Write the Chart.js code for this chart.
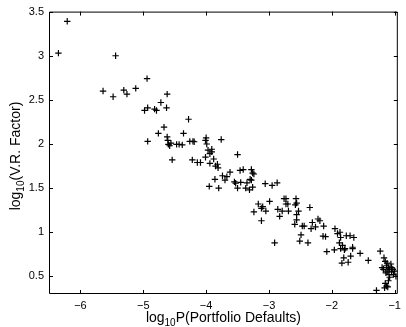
<!DOCTYPE html>
<html>
<head>
<meta charset="utf-8">
<script src="https://cdn.jsdelivr.net/npm/chart.js@4.4.0/dist/chart.umd.min.js"></script>
<style>
html,body{margin:0;padding:0;background:#fff;}
#wrap{width:406px;height:327px;position:relative;}
</style>
</head>
<body>
<div id="wrap"><canvas id="c"></canvas></div>
<script>
const logP = [
-6.21,-6.35,-5.44,-5.64,-5.48,-5.31,-5.26,-5.12,-4.94,-4.98,
-4.93,-4.82,-4.79,-4.72,-4.62,-4.63,-4.28,-4.67,-4.76,-4.93,
-4.62,-4.61,-4.60,-4.56,-4.58,-4.47,-4.43,-4.38,-4.36,-4.54,
-4.26,-4.21,-4.19,-4.22,-4.14,-4.09,-4.01,-4.00,-3.99,-4.01,
-3.97,-3.94,-3.91,-3.91,-3.95,-3.94,-3.88,-3.86,-3.85,-3.82,
-3.80,-3.76,-3.81,-3.74,-3.70,-3.67,-3.62,-3.50,-3.55,-3.53,
-3.50,-3.46,-3.41,-3.45,-3.37,-3.35,-3.31,-3.30,-3.28,-3.26,
-3.24,-3.28,-3.26,-3.24,-3.06,-2.87,-2.95,-3.17,-3.12,-3.10,
-3.05,-3.12,-2.99,-2.91,-2.86,-2.83,-2.79,-2.76,-2.73,-2.73,
-2.69,-2.70,-2.58,-2.57,-2.56,-2.56,-2.59,-2.56,-2.53,-2.49,
-2.51,-2.47,-2.44,-2.35,-2.38,-2.31,-2.33,-2.26,-2.22,-2.19,
-2.13,-2.14,-2.10,-2.08,-1.96,-1.95,-1.91,-1.88,-1.87,-1.86,
-1.86,-1.84,-1.83,-1.81,-1.79,-1.80,-1.77,-1.74,-1.71,-1.70,
-1.67,-1.65,-1.67,-1.55,-1.42,-1.23,-1.29,-1.16,-1.13,
-1.17,-1.15,-1.20,-1.18,-1.13,-1.10,-1.12,-1.08,-1.06,-1.05,
-1.09,-1.14,-1.03,-1.00,-0.98,-1.08,-1.10,-1.15,-1.11,-1.02,
-1.05,-1.12
];
const logVR = [
3.39,3.03,3.00,2.60,2.535,2.61,2.565,2.63,2.74,2.38,
2.41,2.395,2.38,2.47,2.565,2.41,2.28,2.19,2.12,2.03,
2.08,2.04,1.995,2.01,1.98,1.995,1.995,1.99,2.12,1.82,
2.03,2.03,2.025,1.82,1.79,1.79,2.04,2.07,2.00,1.85,
1.93,1.89,1.94,1.91,1.52,1.78,1.83,1.60,1.75,1.77,
1.50,2.05,1.73,1.64,1.59,1.63,1.68,1.88,1.57,1.555,
1.50,1.70,1.71,1.565,1.50,1.56,1.48,1.60,1.71,1.67,
1.66,1.59,1.51,1.23,1.55,1.56,1.53,1.32,1.27,1.29,
1.24,1.13,1.35,0.88,1.26,1.18,1.24,1.38,1.38,1.32,
1.24,1.32,1.31,1.38,1.20,1.14,1.09,1.33,1.24,0.97,
0.90,1.07,1.07,1.28,0.88,1.11,1.04,1.06,1.15,1.13,
1.07,0.955,0.95,0.78,0.80,1.04,0.985,0.88,1.00,0.94,
0.815,0.65,0.85,0.71,0.815,0.80,0.96,0.66,0.96,0.73,
0.83,0.94,0.815,0.76,0.68,0.785,0.34,0.37,0.39,
0.71,0.67,0.60,0.58,0.62,0.60,0.56,0.58,0.64,0.55,
0.52,0.54,0.58,0.56,0.50,0.49,0.45,0.42,0.38,0.52,
0.60,0.65
];
const xTicks = [-6,-5,-4,-3,-2,-1];
const yTicks = [0.5,1,1.5,2,2.5,3,3.5];
const xTickLabels = ['\u22126','\u22125','\u22124','\u22123','\u22122','\u22121'];
const yTickLabels = ['0.5','1','1.5','2','2.5','3','3.5'];
// axis titles: [main, subscript, rest]
const xTitleParts = ['log','10','P(Portfolio Defaults)'];
const yTitleParts = ['log','10','(V.R. Factor)'];

const points = logP.map((x,i)=>({x:x,y:logVR[i]}));
const FONT = '"Liberation Sans", Arial, Helvetica, sans-serif';

function drawSubTitle(ctx, parts, cx, cy, rot){
  const big = '14px ' + FONT, small = '10px ' + FONT;
  ctx.save();
  ctx.translate(cx, cy);
  ctx.rotate(rot);
  ctx.fillStyle = '#000';
  ctx.textBaseline = 'alphabetic';
  ctx.textAlign = 'left';
  ctx.font = big; const w0 = ctx.measureText(parts[0]).width;
  ctx.font = small; const w1 = ctx.measureText(parts[1]).width;
  ctx.font = big; const w2 = ctx.measureText(parts[2]).width;
  let x = -(w0+w1+w2)/2;
  ctx.font = big; ctx.fillText(parts[0], x, 0); x += w0;
  ctx.font = small; ctx.fillText(parts[1], x, 4); x += w1;
  ctx.font = big; ctx.fillText(parts[2], x, 0);
  ctx.restore();
}

const boxTicks = {
  id:'boxTicks',
  afterDraw(chart){
    const {ctx, chartArea:a, scales} = chart;
    ctx.save();
    ctx.strokeStyle = '#000';
    ctx.lineWidth = 1;
    ctx.beginPath();
    ctx.rect(a.left+0.5, a.top+0.5, a.right-a.left-1, a.bottom-a.top-1);
    ctx.stroke();
    const L = 4;
    ctx.beginPath();
    xTicks.forEach(v=>{
      const px = Math.round(scales.x.getPixelForValue(v))+0.5;
      ctx.moveTo(px, a.bottom); ctx.lineTo(px, a.bottom-L);
      ctx.moveTo(px, a.top); ctx.lineTo(px, a.top+L);
    });
    yTicks.forEach(v=>{
      const py = Math.round(scales.y.getPixelForValue(v))+0.5;
      ctx.moveTo(a.left, py); ctx.lineTo(a.left+L, py);
      ctx.moveTo(a.right, py); ctx.lineTo(a.right-L, py);
    });
    ctx.stroke();
    ctx.restore();
    const cx = (a.left + a.right)/2;
    drawSubTitle(ctx, xTitleParts, cx, 322, 0);
    drawSubTitle(ctx, yTitleParts, 20, 156, -Math.PI/2);
  }
};

new Chart(document.getElementById('c'), {
  type:'scatter',
  data:{datasets:[{
    data:points,
    pointStyle:'cross',
    pointRadius:3.2,
    pointBorderWidth:1.2,
    borderColor:'#000',
    backgroundColor:'#000'
  }]},
  options:{
    responsive:true,
    maintainAspectRatio:false,
    animation:false,
    layout:{padding:{top:11,right:1,left:0,bottom:0}},
    plugins:{legend:{display:false},tooltip:{enabled:false}},
    scales:{
      x:{
        type:'linear', min:-6.5, max:-0.95,
        grid:{display:false, drawTicks:false}, border:{display:false},
        afterBuildTicks(s){ s.ticks = xTicks.map(v=>({value:v})); },
        afterFit(s){ s.height = 33; },
        ticks:{
          padding:5, color:'#000', maxRotation:0, autoSkip:false,
          font:{family:FONT,size:11},
          callback(v){ const i = xTicks.indexOf(v); return i>=0 ? xTickLabels[i] : ''; }
        }
      },
      y:{
        type:'linear', min:0.3, max:3.5,
        grid:{display:false, drawTicks:false}, border:{display:false},
        afterBuildTicks(s){ s.ticks = yTicks.map(v=>({value:v})); },
        afterFit(s){ s.width = 49; },
        ticks:{
          padding:5, color:'#000', autoSkip:false,
          font:{family:FONT,size:11},
          callback(v){ const i = yTicks.indexOf(v); return i>=0 ? yTickLabels[i] : ''; }
        }
      }
    }
  },
  plugins:[boxTicks]
});
</script>
</body>
</html>
